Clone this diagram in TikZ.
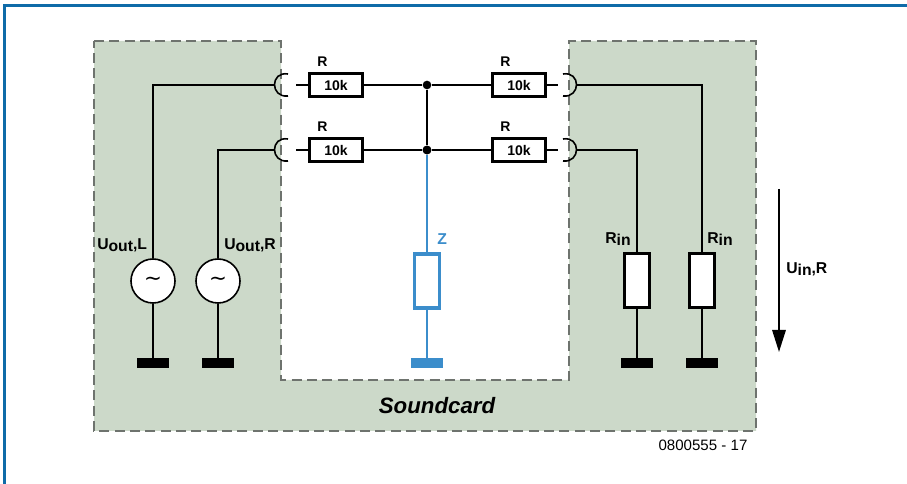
\documentclass[tikz,border=0pt]{standalone}
\usepackage{fontspec}
\setmainfont{Liberation Sans}
\newfontfamily\symfont{DejaVu Sans}
\usetikzlibrary{arrows.meta,positioning}
\definecolor{panelgreen}{HTML}{CCD9C9}
\definecolor{framecol}{HTML}{0F6BA8}
\definecolor{zblue}{HTML}{3B8DCB}
\definecolor{dashgray}{HTML}{6E736E}

\begin{document}
\begin{tikzpicture}[
    x=0.75pt, y=-0.75pt,
    every node/.style={font=\bfseries\fontsize{10.5}{11}\selectfont, inner sep=0pt},
    biglabel/.style={font=\bfseries\fontsize{11.8}{13}\selectfont, anchor=west},
    resistor/.style={rectangle, draw=black, fill=white, line width=2.4pt, minimum width=40pt, minimum height=17.2pt},
    loadres/.style={rectangle, draw=black, fill=white, line width=2.4pt, minimum width=18.2pt, minimum height=40.4pt},
    source/.style={circle, draw=black, fill=white, line width=1.2pt, minimum size=33pt},
    groundbar/.style={rectangle, fill=black, minimum width=24pt, minimum height=7.5pt},
    junction/.style={circle, fill=black, minimum size=6.5pt},
    wire/.style={line width=1.2pt},
    bluewire/.style={line width=1.5pt, draw=zblue}
]
\useasboundingbox (0,0) rectangle (907,484);

% FRAME
\draw[framecol, line width=2.2pt] (4.5,484) -- (4.5,5.5) -- (907,5.5);

% SOUNDCARD PANEL
\draw[dashgray, fill=panelgreen, line width=0.9pt, dash pattern=on 7.5pt off 4pt]
    (94,41) -- (281,41) -- (281,380) -- (569,380) -- (569,41) -- (756,41) -- (756,431) -- (94,431) -- cycle;
\node[font=\bfseries\itshape\fontsize{16.7}{18}\selectfont] (soundcard) at (437,406) {Soundcard};
\node[font=\fontsize{11.3}{12}\selectfont] (partno) at (703,445) {0800555 - 17};

% RESISTORS
\node[resistor] (r1) at (336,85) {10k};
\node[resistor] (r2) at (336,150) {10k};
\node[resistor] (r3) at (519,85) {10k};
\node[resistor] (r4) at (519,150) {10k};
\node[above=4pt of r1.north west, xshift=11pt, anchor=south] (r1lab) {R};
\node[above=4pt of r2.north west, xshift=11pt, anchor=south] (r2lab) {R};
\node[above=4pt of r3.north west, xshift=11pt, anchor=south] (r3lab) {R};
\node[above=4pt of r4.north west, xshift=11pt, anchor=south] (r4lab) {R};

% JUNCTIONS
\node[junction] (j1) at (427,85) {};
\node[junction] (j2) at (427,150) {};

% SOURCES AND LOADS
\node[source] (srcl) at (153,281) {\symfont\mdseries\fontsize{16}{16}\selectfont\char"223C};
\node[source] (srcr) at (218,281) {\symfont\mdseries\fontsize{16}{16}\selectfont\char"223C};
\node[loadres] (rinr) at (637,280.5) {};
\node[loadres] (rinl) at (702,280.5) {};
\node[loadres, draw=zblue] (z) at (427,281) {};

% GROUNDS
\node[groundbar] (gnd1) at (153,363) {};
\node[groundbar] (gnd2) at (218,363) {};
\node[groundbar] (gnd3) at (637,363) {};
\node[groundbar] (gnd4) at (702,363) {};
\node[groundbar, fill=zblue] (gnd5) at (427,363) {};

% JACK POINTS
\coordinate (jl1) at (275,85);
\coordinate (jl2) at (275,150);
\coordinate (jr1) at (577,85);
\coordinate (jr2) at (577,150);
\draw[wire] (288,74) .. controls (270,71) and (270,98) .. (288,96);
\draw[wire] (288,139) .. controls (270,136) and (270,163) .. (288,161);
\draw[wire] (563,74) .. controls (581,71) and (581,98) .. (563,96);
\draw[wire] (563,139) .. controls (581,136) and (581,163) .. (563,161);

% CONNECTIONS
\draw[wire] (jl1) -| (srcl);
\draw[wire] (jl2) -| (srcr);
\draw[wire] (jr1) -| (rinl);
\draw[wire] (jr2) -| (rinr);
\draw[wire] (r1) -- (j1) -- (r3);
\draw[wire] (r2) -- (j2) -- (r4);
\draw[wire] (j1) -- (j2);
\draw[wire] (r1.west) -- ++(-12,0) coordinate (s1);
\draw[wire] (r2.west) -- ++(-12,0) coordinate (s2);
\draw[wire] (r3.east) -- ++(11,0) coordinate (s3);
\draw[wire] (r4.east) -- ++(11,0) coordinate (s4);
\draw[wire] (srcl) -- (gnd1);
\draw[wire] (srcr) -- (gnd2);
\draw[wire] (rinr) -- (gnd3);
\draw[wire] (rinl) -- (gnd4);
\draw[bluewire] (j2) -- (z);
\draw[bluewire] (z) -- (gnd5);
\node[junction] at (j2) {};

% VOLTAGE ARROW
\coordinate (utop) at (779,189);
\coordinate (ubot) at (779,352);
\draw[line width=1.6pt, -{Triangle[length=16.5pt, width=10pt]}] (utop) -- (ubot);

% LABELS
\newcommand{\idx}[1]{\raisebox{-1.5pt}{#1}}
\node[biglabel] (uoutl) at (97,245) {U\idx{out},L};
\node[biglabel] (uoutr) at (224,245) {U\idx{out},R};
\node[biglabel] (rinrlab) at (605,239) {R\idx{in}};
\node[biglabel] (rinllab) at (707,239) {R\idx{in}};
\node[biglabel] (uinr) at (786,269) {U\idx{in},R};
\node[biglabel, text=zblue] (zlab) at (437,239) {Z};
\end{tikzpicture}
\end{document}
